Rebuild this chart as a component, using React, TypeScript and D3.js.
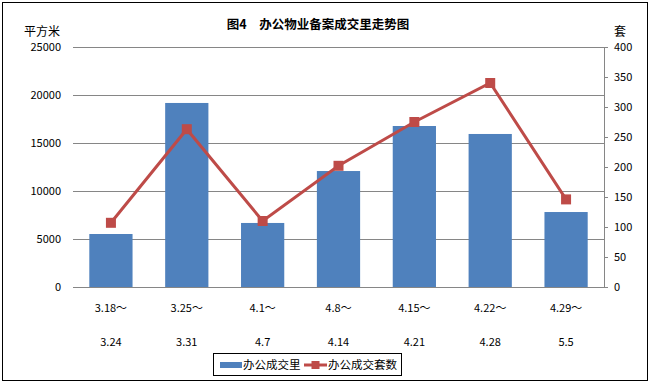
import React from "react";
import * as d3 from "d3";

const categoriesTop = ["3.18～", "3.25～", "4.1～", "4.8～", "4.15～", "4.22～", "4.29～"];
const categoriesBottom = ["3.24", "3.31", "4.7", "4.14", "4.21", "4.28", "5.5"];
const areaValues = [5520, 19170, 6670, 12080, 16770, 15940, 7810];
const unitValues = [107, 263, 110, 202, 275, 340, 146];
const leftTicks = [0, 5000, 10000, 15000, 20000, 25000];
const rightTicks = [0, 50, 100, 150, 200, 250, 300, 350, 400];

const W = 651, H = 384;
const plot = { left: 73, right: 604, top: 47, bottom: 287 };
const font = "'Noto Sans CJK SC', 'DejaVu Sans', sans-serif";

export default function App() {
  const x = d3.scaleBand<number>().domain(d3.range(categoriesTop.length)).range([plot.left, plot.right]).paddingInner(0.43).paddingOuter(0.215);
  const yL = d3.scaleLinear().domain([0, 25000]).range([plot.bottom, plot.top]);
  const yR = d3.scaleLinear().domain([0, 400]).range([plot.bottom, plot.top]);
  const band = (plot.right - plot.left) / categoriesTop.length;
  const cx = (i: number) => plot.left + band * (i + 0.5);
  const line = d3.line<number>().x((_, i) => cx(i)).y((d) => yR(d));

  return (
    <div style={{ position: "absolute", left: 0, top: 0 }}>
      <svg width={W} height={H} style={{ display: "block", background: "#fff" }}>
        <rect x={2.5} y={2.5} width={645} height={378} fill="#fff" stroke="#000" strokeWidth={1} />
        <text x={318} y={29} textAnchor="middle" fontFamily={font} fontSize={12.5} fontWeight="bold" fill="#000">图4　办公物业备案成交里走势图</text>
        <text x={42} y={36} textAnchor="middle" fontFamily={font} fontSize={12} fill="#000">平方米</text>
        <text x={620} y={36} textAnchor="middle" fontFamily={font} fontSize={12} fill="#000">套</text>
        {leftTicks.map((t) => (
          <g key={"l" + t}>
            <line x1={plot.left} x2={plot.right} y1={Math.round(yL(t)) + 0.5} y2={Math.round(yL(t)) + 0.5} stroke="#868686" strokeWidth={1} />
            <text x={61} y={yL(t) + 4} textAnchor="end" fontFamily={font} fontSize={11} fill="#000">{t}</text>
          </g>
        ))}
        <line x1={plot.right + 0.5} x2={plot.right + 0.5} y1={plot.top} y2={plot.bottom} stroke="#868686" />
        {rightTicks.map((t) => (
          <g key={"r" + t}>
            <line x1={plot.right} x2={plot.right + 4} y1={Math.round(yR(t)) + 0.5} y2={Math.round(yR(t)) + 0.5} stroke="#868686" />
            <text x={614} y={yR(t) + 4} textAnchor="start" fontFamily={font} fontSize={11} fill="#000">{t}</text>
          </g>
        ))}
        {areaValues.map((v, i) => (
          <rect key={"b" + i} x={x(i)} y={yL(v)} width={x.bandwidth()} height={plot.bottom - yL(v)} fill="#4F81BD" />
        ))}
        <path d={line(unitValues) || ""} fill="none" stroke="#BE4B48" strokeWidth={3} />
        {unitValues.map((v, i) => (
          <rect key={"m" + i} x={cx(i) - 5} y={yR(v) - 5} width={10} height={10} fill="#BE4B48" />
        ))}
        {categoriesTop.map((c, i) => (
          <g key={"c" + i}>
            <text x={cx(i)} y={312} textAnchor="middle" fontFamily={font} fontSize={11} fill="#000">{c}</text>
            <text x={cx(i)} y={346} textAnchor="middle" fontFamily={font} fontSize={11} fill="#000">{categoriesBottom[i]}</text>
          </g>
        ))}
        <g>
          <rect x={213.5} y={353.5} width={188} height={22} fill="#fff" stroke="#000" />
          <rect x={220} y={362} width={22} height={6} fill="#4F81BD" />
          <text x={243} y={369} fontFamily={font} fontSize={11.5} fill="#000">办公成交里</text>
          <line x1={304} x2={327} y1={365} y2={365} stroke="#BE4B48" strokeWidth={3} />
          <rect x={311.5} y={361} width={8} height={8} fill="#BE4B48" />
          <text x={328} y={369} fontFamily={font} fontSize={11.5} fill="#000">办公成交套数</text>
        </g>
      </svg>
    </div>
  );
}
